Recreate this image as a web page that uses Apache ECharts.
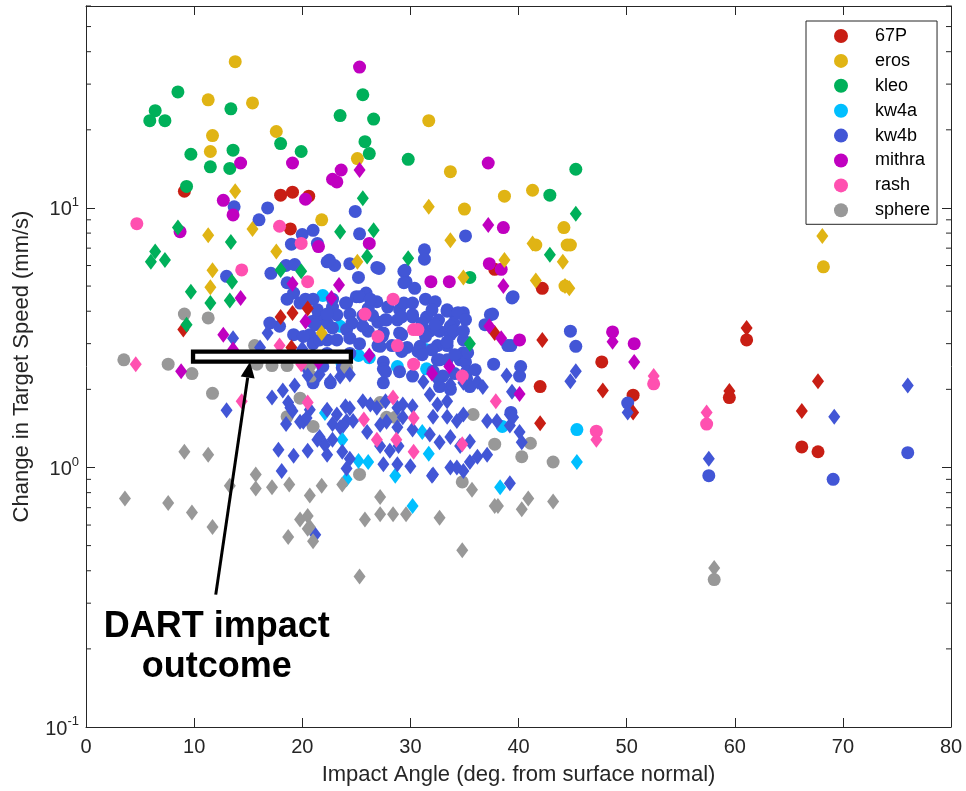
<!DOCTYPE html>
<html>
<head>
<meta charset="utf-8">
<script src="https://cdn.jsdelivr.net/npm/echarts@6/dist/echarts.min.js"></script>
<style>html,body{margin:0;padding:0;background:#fff;}#main{width:966px;height:791px;}</style>
</head>
<body>
<div id="main"></div>
<script>
// ---- data: [impact angle (deg), change in target speed (mm/s)] ----
const bodyNames = ['67P','eros','kleo','kw4a','kw4b','mithra','rash','sphere'];
const bodyColors = ['#C81E14','#E0B414','#00B05A','#00BFFF','#4256D6','#C000C0','#FF50B0','#989898'];
const xTicks = [0,10,20,30,40,50,60,70,80];
const yDecades = [0.1,1,10];

const p67Circle = [[9.1,11.6],[18.0,11.2],[19.1,11.5],[20.6,11.1],[18.9,8.3],[42.2,4.9],[61.1,3.1],[47.7,2.55],[42.0,2.05],[50.6,1.9],[59.5,1.86],[66.2,1.2],[67.7,1.15],[37.8,5.8]];
const p67Diamond = [[18.0,3.8],[19.1,3.94],[20.5,4.1],[9.0,3.4],[19.0,2.9],[37.8,3.3],[42.2,3.1],[61.1,3.45],[47.8,1.98],[42.0,1.48],[50.6,1.63],[59.5,1.97],[66.2,1.65],[67.7,2.15]];

const erosCircle = [[13.8,36.6],[11.3,26.1],[15.4,25.4],[11.7,19.0],[17.6,19.7],[11.5,16.5],[25.1,15.5],[21.8,9.0],[31.7,21.7],[33.7,13.8],[38.7,11.1],[41.3,11.7],[35.0,9.9],[44.2,8.4],[41.6,7.2],[44.5,7.2],[44.8,7.2],[68.2,5.93],[44.3,5.0]];
const erosDiamond = [[13.8,11.6],[11.3,7.85],[15.4,8.3],[17.6,6.8],[11.7,5.75],[11.5,4.95],[31.7,10.1],[41.3,7.3],[33.7,7.5],[25.1,6.2],[34.9,5.4],[38.7,6.3],[21.8,3.3],[68.1,7.8],[44.1,6.2],[41.6,5.25],[44.3,5.0],[44.7,4.9]];

const kleoCircle = [[8.5,28.0],[6.4,23.7],[5.9,21.7],[7.3,21.7],[13.4,24.1],[9.7,16.1],[11.5,14.4],[13.6,16.7],[13.3,14.2],[9.3,12.1],[18.0,17.7],[19.9,16.5],[23.5,22.7],[25.6,27.3],[26.6,22.0],[25.8,18.0],[26.2,16.2],[29.8,15.4],[42.9,11.2],[45.3,14.1],[35.5,5.4]];
const kleoDiamond = [[8.5,8.4],[13.4,7.4],[6.4,6.8],[6.0,6.2],[7.3,6.3],[9.7,4.75],[11.5,4.3],[13.3,4.4],[13.5,5.2],[9.3,3.55],[18.0,5.77],[19.9,5.7],[25.6,10.9],[23.5,8.1],[26.6,8.2],[26.0,6.5],[29.8,6.4],[35.5,3.0],[45.3,9.5],[42.9,6.6]];

const kw4aCircle = [[21.9,4.6],[23.5,3.5],[25.2,2.7],[26.2,2.65],[28.8,2.45],[31.5,2.4],[23.7,2.5],[38.5,1.44],[45.4,1.4],[31.4,2.85]];
const kw4aDiamond = [[22.1,1.62],[23.7,1.28],[25.2,1.06],[26.1,1.05],[28.6,0.93],[31.1,1.37],[31.7,1.13],[30.2,0.71],[38.3,0.84],[24.1,0.9],[45.4,1.05]];

const kw4bCircle = [
 [13.7,10.1],[16.8,10.0],[16.0,9.0],[20.0,7.9],[21.0,8.2],[24.9,9.7],[25.3,7.95],[19.0,7.25],[21.4,7.3],[17.1,5.6],[13.0,5.45],[18.5,6.0],[19.3,6.05],[18.6,5.15],[19.2,4.7],[18.6,4.45],[19.8,4.3],[20.4,4.35],[17.9,3.5],[19.2,3.25],[20.7,3.25],[21.0,3.0],[17.0,3.6],[20.9,3.65],[21.5,3.85],[22.8,4.15],[24.1,4.3],[23.2,3.87],[25.0,4.55],[25.9,4.7],[26.9,4.35],[26.1,4.1],[24.1,3.4],[22.3,3.6],[22.3,3.1],[26.1,3.35],[25.3,3.0],[27.0,3.63],[22.3,6.2],[23.0,6.0],[25.2,5.4],[26.9,5.9],[35.1,7.8],[27.1,5.85],[22.5,6.3],[24.4,6.1],[29.4,5.7],[31.3,6.9],[31.3,6.35],[29.6,5.2],[30.4,4.9],[39.5,4.55],[37.6,3.9],[36.9,3.55],[37.7,2.5],[40.2,2.45],[40.1,2.25],[39.3,2.95],[39.3,1.63],
 [20.3,4.45],[21.0,4.45],[22.8,4.45],[24.0,4.3],[25.3,4.55],[26.3,4.45],[27.9,4.15],[29.0,4.05],[31.4,4.45],[32.3,4.35],[33.4,4.05],[34.1,3.9],[34.9,3.95],[21.4,4.05],[22.3,3.9],[24.4,3.9],[25.6,3.85],[26.5,3.85],[27.8,3.7],[28.8,3.7],[30.2,3.8],[31.5,3.8],[32.6,3.7],[34.0,3.6],[21.2,3.55],[22.8,3.45],[24.6,3.6],[25.6,3.5],[27.5,3.3],[29.2,3.25],[31.8,3.35],[32.7,3.35],[33.7,3.25],[20.1,3.2],[21.6,3.1],[23.2,3.1],[24.4,3.15],[27.2,2.93],[28.3,2.95],[29.7,2.9],[30.9,2.93],[32.5,2.95],[33.4,2.95],[34.9,3.1],[20.7,2.65],[22.3,2.75],[24.4,2.75],[27.5,2.55],[32.5,2.6],[33.4,2.6],[34.6,2.6],[34.9,2.77],[35.1,2.55],[20.5,2.42],[21.9,2.45],[23.7,2.42],[27.5,2.4],[30.2,2.25],[32.1,2.35],[33.0,2.25],[34.1,2.3],[35.2,2.2],[35.5,2.05],[21.0,2.12],[22.6,2.12],[27.5,2.12],[32.7,2.05],[33.7,2.0],
 [29.5,5.75],[29.4,5.15],[29.4,4.3],[30.2,4.3],[32.0,4.05],[33.4,4.0],[34.4,3.95],[27.7,3.71],[29.2,3.8],[30.2,3.88],[31.1,3.6],[32.3,3.55],[33.7,3.5],[35.1,3.71],[27.4,3.2],[29.0,3.3],[31.4,3.2],[34.0,3.35],[34.9,3.35],[27.0,2.95],[29.2,2.8],[30.7,2.8],[32.0,2.84],[33.4,3.05],[31.1,2.72],[32.7,2.6],[34.1,2.72],[35.3,2.77],[27.7,2.34],[29.0,2.34],[35.2,2.34],[36.0,2.38],[37.4,3.88],[39.4,4.5],[39.0,2.95],
 [44.8,3.35],[45.3,2.93],[50.1,1.77],[57.6,0.93],[69.1,0.9],[76.0,1.14]
];
const kw4bDiamond = [
 [16.8,3.3],[13.6,3.15],[16.1,2.9],[20.0,2.87],[19.3,2.07],[18.2,1.98],[17.2,1.86],[18.7,1.78],[13.0,1.66],[19.1,1.65],[20.7,1.67],[18.5,1.47],[20.1,1.5],[17.8,1.17],[19.2,1.11],[20.5,1.16],[18.1,0.97],[21.4,1.28],[21.2,0.55],
 [18.9,1.7],[19.8,1.5],[20.4,1.55],[22.1,1.22],[22.3,1.12],[22.8,1.47],[23.5,1.43],[24.1,1.51],[24.7,1.51],[24.0,1.72],[25.6,1.8],[26.3,1.75],[26.9,1.70],[27.7,1.8],[28.8,1.70],[29.3,1.75],[30.2,1.72],[27.8,1.5],[29.3,1.56],[30.2,1.40],[28.8,1.43],[31.8,1.91],[32.5,1.75],[33.4,1.80],[32.1,1.57],[33.4,1.57],[34.3,1.51],[34.9,1.60],[31.2,2.14],[32.5,2.18],[33.7,2.09],[34.9,2.12],[36.2,2.14],[36.7,2.04],[27.2,1.21],[28.1,1.16],[28.9,1.21],[27.5,1.03],[28.8,1.03],[30.0,1.01],[31.8,1.34],[32.7,1.25],[33.7,1.31],[34.6,1.21],[35.5,1.26],[36.2,1.10],[32.1,0.94],[33.7,1.0],[34.9,0.97],[35.5,1.05],[37.1,1.51],[38.0,1.51],[39.2,1.60],[39.2,1.45],[37.1,1.12],[39.4,1.96],[38.9,2.26],[20.5,2.26],[21.6,2.28],[22.6,2.16],[23.5,2.24],[24.4,2.28],
 [22.3,1.67],[23.2,1.6],[24.4,1.69],[23.8,1.45],[21.6,1.31],[22.8,1.28],[23.7,1.15],[24.4,1.08],[24.1,0.99],[26.0,1.37],[27.2,1.46],[32.0,0.93],[34.3,1.0],[39.2,0.87],[40.1,1.37],[40.3,1.25],[39.5,1.56],
 [45.3,2.35],[44.8,2.15],[50.1,1.63],[57.6,1.08],[69.2,1.57],[76.0,2.07]
];

const mithraCircle = [[25.3,34.9],[14.3,14.9],[19.1,14.9],[23.6,14.0],[22.8,12.9],[23.2,12.6],[12.7,10.7],[13.6,9.4],[20.3,10.8],[8.7,8.1],[37.2,14.9],[38.6,8.4],[21.5,7.1],[26.2,7.3],[31.9,5.2],[33.6,5.2],[37.3,6.1],[38.4,5.8],[40.1,3.1],[48.7,3.33],[50.7,3.0]];
const mithraDiamond = [[25.3,14.0],[14.3,4.5],[12.7,3.25],[13.6,2.85],[8.8,2.35],[19.1,5.1],[20.3,3.65],[37.2,8.6],[38.6,5.0],[23.4,5.05],[22.7,4.5],[37.3,3.5],[38.4,3.15],[26.2,2.7],[33.6,2.45],[32.0,2.3],[40.1,1.92],[21.5,2.55],[48.7,3.05],[50.7,2.55]];

const rashCircle = [[4.7,8.7],[17.9,8.5],[14.4,5.77],[20.5,5.2],[19.9,7.3],[28.4,4.45],[25.8,3.9],[30.3,3.4],[30.7,3.4],[27.0,3.2],[28.8,2.95],[30.3,2.5],[34.8,2.25],[52.5,2.1],[47.2,1.38],[57.4,1.47]];
const rashDiamond = [[4.6,2.5],[17.9,2.95],[19.9,2.5],[14.4,1.8],[20.5,1.78],[25.7,1.53],[26.9,1.28],[28.4,1.86],[30.3,1.55],[28.7,1.28],[30.3,1.15],[34.8,2.22],[37.9,1.8],[34.8,1.23],[52.5,2.25],[47.2,1.28],[57.4,1.63]];

const sphereCircle = [[9.1,3.9],[11.3,3.77],[3.5,2.6],[7.6,2.5],[9.8,2.3],[11.7,1.93],[15.6,2.95],[15.8,2.5],[17.2,2.47],[18.6,2.47],[20.8,2.25],[19.8,1.85],[20.7,2.47],[18.6,1.57],[21.0,1.44],[27.2,1.78],[27.8,1.56],[28.6,1.56],[35.8,1.6],[37.8,1.23],[25.3,0.94],[41.1,1.24],[40.3,1.1],[43.2,1.05],[34.8,0.88],[58.1,0.37],[24.1,2.42]];
const sphereDiamond = [[9.1,1.15],[11.3,1.12],[3.6,0.76],[7.6,0.73],[9.8,0.67],[11.7,0.59],[15.7,0.94],[13.3,0.85],[15.7,0.83],[17.2,0.84],[18.8,0.86],[20.7,0.78],[19.8,0.63],[20.5,0.65],[18.7,0.54],[21.0,0.52],[20.7,0.59],[21.8,0.85],[23.7,0.86],[27.2,0.77],[27.2,0.66],[25.8,0.63],[28.4,0.66],[29.6,0.66],[32.7,0.64],[35.7,0.82],[37.8,0.71],[38.1,0.71],[40.3,0.69],[40.9,0.76],[43.2,0.74],[34.8,0.48],[25.3,0.38],[20.5,0.58],[58.1,0.41]];

const circleSets = [p67Circle, erosCircle, kleoCircle, kw4aCircle, kw4bCircle, mithraCircle, rashCircle, sphereCircle];
const diamondSets = [p67Diamond, erosDiamond, kleoDiamond, kw4aDiamond, kw4bDiamond, mithraDiamond, rashDiamond, sphereDiamond];

// annotation anchors (data coords)
const dartBox = {x0: 9.9, x1: 24.5, yTop: 2.795, yBottom: 2.557};
const arrowFrom = [12.0, 0.3236];
const arrowTo = [15.17, 2.557];
const dartTextAnchor = [12.1, 0.291];
const dartText = 'DART impact\noutcome';

const FONT = '"Liberation Sans", Arial, Helvetica, sans-serif';
const AX = '#262626';

const chart = echarts.init(document.getElementById('main'), null, {renderer: 'canvas'});

const series = [];
circleSets.forEach((d, i) => series.push({
  name: bodyNames[i], type: 'scatter', symbol: 'circle', symbolSize: 13,
  data: d, itemStyle: {color: bodyColors[i], opacity: 1}, emphasis: {disabled: true}, silent: true
}));
diamondSets.forEach((d, i) => series.push({
  name: bodyNames[i], type: 'scatter', symbol: 'diamond', symbolSize: [12, 16],
  data: d, itemStyle: {color: bodyColors[i], opacity: 1}, emphasis: {disabled: true}, silent: true
}));

function yLab(v) {
  const e = Math.round(Math.log10(v) * 1000) / 1000;
  if (Math.abs(e - Math.round(e)) < 1e-6 && yDecades.some(d => Math.abs(Math.log10(d) - e) < 1e-6)) {
    return '{b|10}{s|' + Math.round(e) + '}';
  }
  return '';
}

const axisLineStyle = {color: AX, width: 1};

chart.setOption({
  animation: false,
  textStyle: {fontFamily: FONT},
  grid: {left: 86, right: 15, top: 6, bottom: 63, containLabel: false},
  legend: {
    orient: 'vertical', left: 806, top: 21,
    data: bodyNames.map(n => ({name: n, icon: 'circle'})),
    itemWidth: 14, itemHeight: 14, itemGap: 6.9,
    padding: [6, 7, 5, 28],
    borderColor: '#262626', borderWidth: 1, backgroundColor: '#fff',
    textStyle: {fontSize: 18, lineHeight: 18, color: '#000', fontFamily: FONT, padding: [0, 0, 0, 22]},
    selectedMode: false
  },
  xAxis: [
    {type: 'value', min: 0, max: 80, interval: 10, position: 'bottom',
     name: 'Impact Angle (deg. from surface normal)', nameLocation: 'middle', nameGap: 37,
     nameTextStyle: {fontSize: 22, color: AX, fontFamily: FONT},
     axisLine: {show: true, onZero: false, lineStyle: axisLineStyle},
     axisTick: {show: true, inside: true, length: 9, lineStyle: axisLineStyle},
     axisLabel: {fontSize: 20, color: AX, margin: 10, fontFamily: FONT,
       formatter: v => xTicks.includes(v) ? String(v) : ''},
     splitLine: {show: false}},
    {type: 'value', min: 0, max: 80, interval: 10, position: 'top',
     axisLine: {show: true, onZero: false, lineStyle: axisLineStyle},
     axisTick: {show: true, inside: true, length: 9, lineStyle: axisLineStyle},
     axisLabel: {show: false}, splitLine: {show: false}}
  ],
  yAxis: [
    {type: 'log', logBase: 10, min: 0.1, max: 60, position: 'left',
     name: 'Change in Target Speed (mm/s)', nameLocation: 'middle', nameGap: 53,
     nameTextStyle: {fontSize: 22, color: AX, fontFamily: FONT},
     axisLine: {show: true, onZero: false, lineStyle: axisLineStyle},
     axisTick: {show: true, inside: true, length: 9, lineStyle: axisLineStyle},
     axisLabel: {color: AX, margin: 7, formatter: yLab,
       rich: {b: {fontSize: 20, color: AX, fontFamily: FONT, verticalAlign: 'bottom', lineHeight: 24},
              s: {fontSize: 13, color: AX, fontFamily: FONT, verticalAlign: 'top', lineHeight: 24}}},
     splitLine: {show: false}, minorTick: {show: false}},
    {type: 'log', logBase: 10, min: 0.1, max: 60, position: 'right',
     axisLine: {show: true, onZero: false, lineStyle: axisLineStyle},
     axisTick: {show: true, inside: true, length: 9, lineStyle: axisLineStyle},
     axisLabel: {show: false}, splitLine: {show: false}}
  ],
  series: series
});

// minor log ticks and annotation, placed through the axes' own scales
const gfx = [];
const xL = chart.convertToPixel({xAxisIndex: 0}, 0);
const xR = chart.convertToPixel({xAxisIndex: 0}, 80);
yDecades.forEach(d => {
  for (let m = 2; m <= 9; m++) {
    const v = m * d;
    if (v > 60) continue;
    const py = chart.convertToPixel({yAxisIndex: 0}, v);
    gfx.push({type: 'line', z: 50, silent: true, shape: {x1: xL, y1: py, x2: xL + 5, y2: py}, style: {stroke: AX, lineWidth: 1}});
    gfx.push({type: 'line', z: 50, silent: true, shape: {x1: xR, y1: py, x2: xR - 5, y2: py}, style: {stroke: AX, lineWidth: 1}});
  }
});
const c = (p) => chart.convertToPixel({xAxisIndex: 0, yAxisIndex: 0}, p);
const b0 = c([dartBox.x0, dartBox.yTop]);
const b1 = c([dartBox.x1, dartBox.yBottom]);
gfx.push({type: 'rect', z: 100, silent: true, shape: {x: b0[0], y: b0[1], width: b1[0] - b0[0], height: b1[1] - b0[1]},
  style: {fill: '#fff', stroke: '#000', lineWidth: 4.3}});
const a0 = c(arrowFrom), a1 = c(arrowTo);
const ang = Math.atan2(a1[1] - a0[1], a1[0] - a0[0]);
const headLen = 16, headW = 7;
const base = [a1[0] - headLen * Math.cos(ang), a1[1] - headLen * Math.sin(ang)];
gfx.push({type: 'line', z: 100, silent: true, shape: {x1: a0[0], y1: a0[1], x2: base[0], y2: base[1]}, style: {stroke: '#000', lineWidth: 3}});
gfx.push({type: 'polygon', z: 100, silent: true, shape: {points: [
  a1,
  [base[0] + headW * Math.sin(ang), base[1] - headW * Math.cos(ang)],
  [base[0] - headW * Math.sin(ang), base[1] + headW * Math.cos(ang)]
]}, style: {fill: '#000'}});
const t0 = c(dartTextAnchor);
gfx.push({type: 'text', z: 100, silent: true, x: t0[0], y: t0[1],
  style: {text: dartText, font: 'bold 36px ' + FONT, fill: '#000', align: 'center', verticalAlign: 'top', lineHeight: 40}});
chart.setOption({graphic: gfx});
</script>
</body>
</html>
